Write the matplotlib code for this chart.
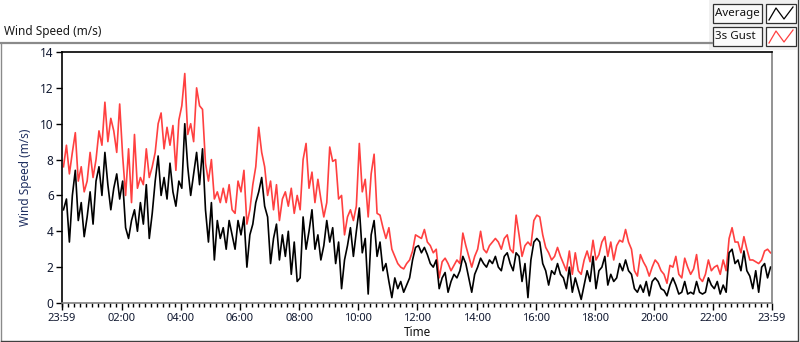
import numpy as np
import matplotlib
matplotlib.use("Agg")
import matplotlib.pyplot as plt
from matplotlib.patches import Rectangle
from matplotlib.lines import Line2D

plt.rcParams['font.family'] = ['Noto Sans', 'DejaVu Sans']

# ---- data (6-minute samples from 23:59 to 23:59) ----
avg_speed = [
    5.2,5.8,3.4,6.0,7.4,4.6,5.6,3.7,4.8,6.2,4.4,6.8,7.6,6.0,8.4,6.6,5.2,6.4,7.2,5.8,
    6.8,4.2,3.6,4.6,5.2,4.0,5.6,4.4,6.6,3.6,5.0,6.8,8.2,6.0,7.0,5.8,7.8,6.2,5.4,6.8,
    6.4,10.0,7.6,6.0,7.2,8.4,6.6,8.6,5.2,3.4,5.6,2.4,4.6,3.6,4.2,3.0,4.6,3.8,3.0,4.6,
    3.8,4.8,2.0,3.8,4.4,5.6,6.2,7.0,5.4,4.8,2.2,3.6,4.4,2.4,3.8,2.6,4.0,1.6,3.4,1.2,
    1.4,4.8,3.0,4.0,5.2,3.0,3.8,2.4,3.2,4.6,3.4,4.2,2.2,3.4,0.8,2.4,3.2,4.2,2.6,4.0,
    5.3,2.8,3.6,0.5,3.8,4.6,2.6,3.4,1.8,2.2,1.2,0.3,1.4,0.8,1.2,0.6,1.0,1.4,2.4,3.1,
    3.2,2.8,3.1,2.7,2.2,2.0,2.4,0.8,1.4,1.7,0.6,1.2,1.6,1.4,1.8,2.6,2.2,1.4,0.6,1.6,
    2.0,2.5,2.2,2.0,2.4,2.2,2.6,2.0,1.8,2.6,2.8,2.2,1.8,2.8,2.6,1.2,2.2,0.3,2.4,3.4,
    3.6,3.4,2.2,1.8,1.0,1.8,1.6,2.2,1.6,1.4,0.8,2.0,0.6,1.4,0.8,0.2,1.0,1.8,1.2,2.6,
    0.8,1.8,2.0,2.6,1.0,1.6,1.2,1.4,2.2,1.8,2.4,1.8,1.6,0.8,0.6,1.0,0.6,1.2,0.4,1.2,
    1.4,1.2,0.8,0.7,0.4,1.0,1.4,1.0,0.5,0.6,1.2,0.5,0.6,0.5,1.2,0.6,0.5,0.6,1.4,1.0,
    0.8,1.2,0.5,1.0,0.6,2.8,3.0,2.2,2.4,1.8,2.9,1.8,1.5,0.8,1.8,0.6,2.0,2.2,1.4,2.0,
]
gust_speed = [
    7.6,8.8,7.2,8.4,9.5,6.8,7.6,6.2,6.8,8.4,7.0,8.0,9.6,8.8,11.2,9.0,10.3,9.6,8.4,11.1,
    8.2,6.0,8.6,5.6,9.4,6.4,7.0,6.6,8.6,7.0,7.6,8.4,10.0,10.6,8.6,9.8,8.8,9.9,7.4,10.2,
    11.0,12.8,9.4,10.0,9.0,12.0,11.0,10.8,7.8,6.8,8.0,5.8,6.2,5.6,6.4,5.6,6.6,5.2,5.0,6.8,
    6.2,7.4,4.4,5.2,6.6,7.6,9.8,8.4,7.6,6.0,6.8,5.2,6.6,4.6,5.8,6.2,5.4,6.4,5.0,6.0,
    5.2,8.0,8.9,6.4,7.3,5.6,6.9,5.8,4.8,5.6,8.7,7.9,8.0,5.8,6.0,3.8,4.8,5.2,4.6,5.4,
    8.9,6.2,6.9,4.8,7.2,8.3,5.0,4.9,4.2,3.6,4.2,3.0,2.6,2.2,2.0,1.9,2.2,2.4,2.9,3.8,
    3.7,3.6,4.1,3.4,3.2,2.8,3.0,1.4,2.3,2.5,2.2,1.8,2.1,2.4,2.2,3.9,3.2,2.6,2.0,2.6,
    3.0,4.0,3.0,2.8,3.2,3.4,3.6,3.4,3.0,3.6,3.8,3.0,2.8,4.9,3.8,2.6,3.2,3.4,3.2,4.6,
    4.9,4.8,3.8,3.1,2.8,2.4,2.6,3.1,2.6,2.2,1.8,2.9,1.6,2.8,1.8,1.6,2.4,2.9,2.3,3.5,
    2.4,2.7,3.4,3.7,2.6,3.4,2.4,3.2,3.5,3.4,4.1,3.4,3.0,1.8,1.5,2.7,2.3,2.0,1.5,2.0,
    2.4,2.2,1.8,1.6,1.1,2.1,2.0,2.6,1.6,1.4,2.5,2.0,1.6,1.9,2.7,1.4,1.2,1.6,2.4,1.8,
    2.0,2.1,1.6,2.4,1.8,3.6,4.2,3.4,3.4,2.8,3.7,3.0,2.4,2.4,2.3,2.2,2.4,2.9,3.0,2.8,
]
sample_minutes = 6
tick_minutes = [0, 121, 241, 361, 481, 601, 721, 841, 961, 1081, 1201, 1321, 1440]
tick_labels = ["23:59", "02:00", "04:00", "06:00", "08:00", "10:00", "12:00",
               "14:00", "16:00", "18:00", "20:00", "22:00", "23:59"]
y_ticks = [0, 2, 4, 6, 8, 10, 12, 14]
series_names = ["Average", "3s Gust"]

t = np.arange(len(avg_speed)) * sample_minutes + sample_minutes / 2.0

W, H = 800, 342
fig = plt.figure(figsize=(W / 100, H / 100), dpi=100)
fig.patch.set_facecolor('white')

def P(x, y):
    return (x / W, 1 - y / H)

# outer frame
frame_col = '#8a8a8a'
fig.add_artist(Line2D([P(0.5, 0)[0], P(712, 0)[0]], [P(0, 42.5)[1]] * 2, color=frame_col, lw=1.6))
fig.add_artist(Line2D([P(0.5, 0)[0]] * 2, [P(0, 42.5)[1], P(0, 341.5)[1]], color=frame_col, lw=1.0))
fig.add_artist(Line2D([P(0.5, 0)[0], P(797, 0)[0]], [P(0, 341.2)[1]] * 2, color='#404040', lw=1.0))
fig.add_artist(Line2D([P(797.5, 0)[0]] * 2, [P(0, 0)[1], P(0, 341.5)[1]], color='#404040', lw=1.0))

fig.text(*P(4, 32), "Wind Speed (m/s)", fontsize=8.5, va='center', ha='left', color='#1a1a1a')

# legend panel
fig.add_artist(Rectangle(P(709, 50), 88 / W, 50 / H, transform=fig.transFigure,
                         facecolor='#f0f0f0', edgecolor='none'))
rows = [(4, 23, 'black'), (27, 46, '#ff4040')]
for (y0, y1, col), name in zip(rows, series_names):
    fig.add_artist(Rectangle(P(713, y1), 49 / W, (y1 - y0) / H, transform=fig.transFigure,
                             facecolor='#fafafa', edgecolor='#303030', lw=0.9))
    fig.text(*P(715, (y0 + y1) / 2), name, fontsize=8.3, va='center', ha='left', color='#101010')
    fig.add_artist(Rectangle(P(766, y1), 30 / W, (y1 - y0) / H, transform=fig.transFigure,
                             facecolor='white', edgecolor='#303030', lw=0.9))
    xs = [769, 776, 784, 793]
    ys = [y1 - 3, y0 + 4, y1 - 4, y0 + 3]
    fig.add_artist(Line2D([P(x, 0)[0] for x in xs], [P(0, y)[1] for y in ys],
                          color=col, lw=0.9))

# plot area
ax = fig.add_axes([62 / W, 1 - 303 / H, 710 / W, 251 / H])
ax.plot(t, gust_speed, color='#ff4040', lw=1.2)
ax.plot(t, avg_speed, color='black', lw=1.2)
ax.set_xlim(0, 1440)
ax.set_ylim(0, 14)
ax.set_yticks(y_ticks)
ax.set_yticklabels([str(v) for v in y_ticks], fontsize=8.5, color='#101830')
ax.set_xticks(tick_minutes)
ax.set_xticklabels(tick_labels, fontsize=8, color='#101830')
ax.set_xticks(np.arange(1, 1440, 12), minor=True)
ax.tick_params(axis='x', which='major', length=5, width=1, pad=2)
ax.tick_params(axis='x', which='minor', length=3, width=1)
ax.tick_params(axis='y', which='major', length=4, width=1, pad=2)
for s in ['top', 'left']:
    ax.spines[s].set_color('black')
    ax.spines[s].set_linewidth(1.2)
for s in ['bottom', 'right']:
    ax.spines[s].set_color('#808080')
    ax.spines[s].set_linewidth(1.2)
ax.set_xlabel("Time", fontsize=8.5, labelpad=2, color='#101010')
ax.set_ylabel("Wind Speed (m/s)", fontsize=8.5, labelpad=6, color='#1f2f60')

fig.savefig("out.png", dpi=100, facecolor='white')
